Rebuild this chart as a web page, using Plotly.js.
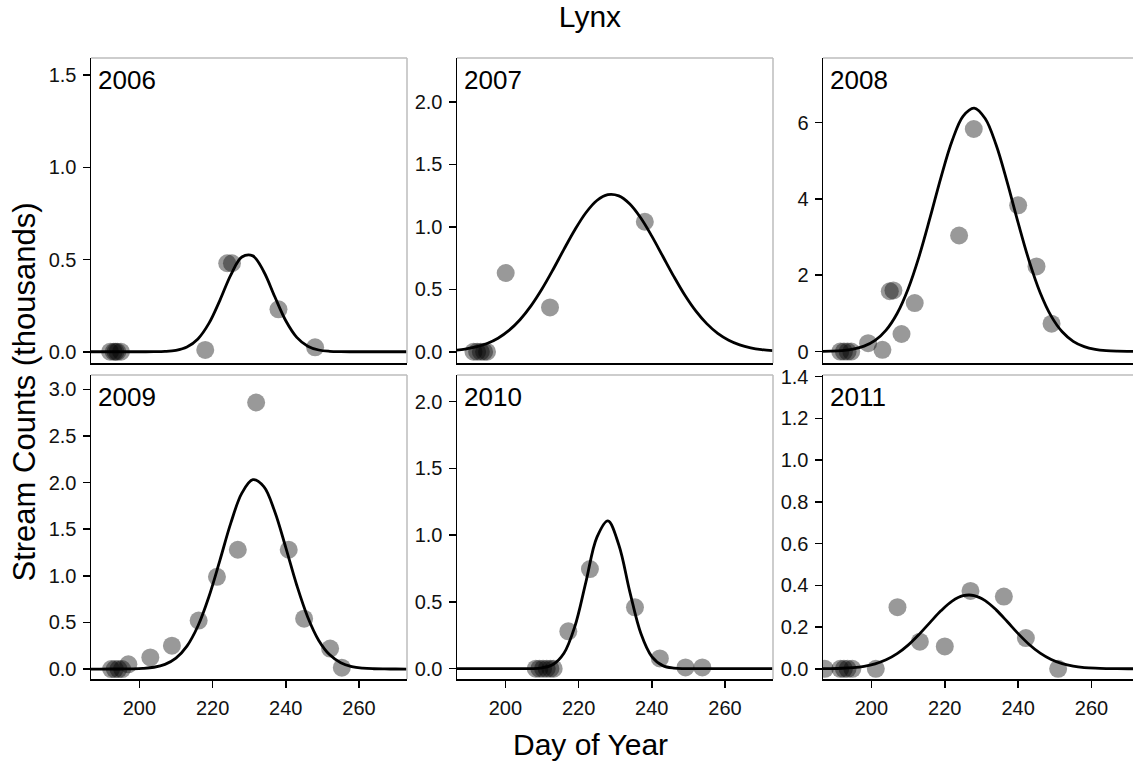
<!DOCTYPE html>
<html>
<head>
<meta charset="utf-8">
<script src="https://cdn.plot.ly/plotly-3.0.1.min.js"></script>
<style>html,body{margin:0;padding:0;background:#fff;}#chart{width:1133px;height:765px;}</style>
</head>
<body>
<div id="chart"></div>
<script>
// ---------- data ----------
const years = ["2006", "2007", "2008", "2009", "2010", "2011"];

// observed stream counts (thousands) by day of year
const days2006 = [192, 193, 193.5, 194, 195, 218, 224, 225.3, 238, 248];
const counts2006 = [0, 0, 0, 0, 0, 0.01, 0.48, 0.48, 0.23, 0.024];

const days2007 = [191.3, 192.3, 193.3, 194.2, 195, 200.1, 212.2, 238.1];
const counts2007 = [0, 0, 0, 0, 0, 0.63, 0.355, 1.04];

const days2008 = [191.5, 192.5, 193.5, 194.5, 199.1, 203, 205, 206, 208.2, 211.8, 223.9, 227.9, 240, 245, 249.1];
const counts2008 = [0, 0, 0, 0, 0.22, 0.045, 1.58, 1.6, 0.46, 1.27, 3.04, 5.83, 3.83, 2.23, 0.73];

const days2009 = [192.3, 193.3, 194.3, 195.3, 197, 203, 208.9, 216.2, 221.2, 226.9, 231.9, 240.8, 245, 252.1, 255.3];
const counts2009 = [0, 0, 0, 0, 0.05, 0.125, 0.25, 0.52, 0.99, 1.28, 2.86, 1.28, 0.54, 0.22, 0.015];

const days2010 = [208.3, 209.3, 210.3, 211.3, 212.3, 213.2, 217.2, 223.1, 235.4, 242.2, 249.2, 253.8];
const counts2010 = [0, 0, 0, 0, 0, 0, 0.28, 0.746, 0.46, 0.077, 0.01, 0.01];

const days2011 = [187.3, 191.5, 192.5, 193.5, 194.8, 201.2, 207.1, 213.2, 220, 227, 236.1, 242.1, 250.9];
const counts2011 = [0, 0, 0, 0, 0, 0, 0.295, 0.13, 0.107, 0.373, 0.346, 0.147, 0];

// fitted curves at these days
const curveDays = [186, 189, 192, 195, 198, 201, 204, 207, 210, 213, 216, 219, 222, 225, 228,
                   231, 234, 237, 240, 243, 246, 249, 252, 255, 258, 261, 264, 267, 270, 273];
const fit2006 = [0, 0, 0, 0, 0, 0.0001, 0.0004, 0.002, 0.008, 0.026, 0.0696, 0.1537, 0.279, 0.417, 0.514,
                 0.520, 0.434, 0.298, 0.168, 0.078, 0.030, 0.0095, 0.0024, 0.0005, 0.0001, 0, 0, 0, 0, 0];
const fit2007 = [0.0113, 0.0213, 0.0383, 0.066, 0.1085, 0.1705, 0.256, 0.367, 0.502, 0.656, 0.819, 0.976, 1.112, 1.210, 1.257,
                 1.247, 1.182, 1.070, 0.925, 0.764, 0.603, 0.454, 0.327, 0.225, 0.147, 0.0925, 0.0553, 0.0316, 0.0173, 0.009];
const fit2008 = [0.0036, 0.0101, 0.0262, 0.0634, 0.1417, 0.2937, 0.563, 0.998, 1.641, 2.495, 3.512, 4.578, 5.523, 6.169, 6.379,
                 6.106, 5.410, 4.438, 3.371, 2.370, 1.542, 0.929, 0.518, 0.268, 0.128, 0.0566, 0.0232, 0.0088, 0.0031, 0.001];
const fit2009 = [0, 0, 0.0001, 0.0005, 0.002, 0.0065, 0.0191, 0.050, 0.117, 0.246, 0.462, 0.776, 1.166, 1.568, 1.887,
                 2.032, 1.958, 1.688, 1.303, 0.899, 0.556, 0.307, 0.152, 0.0673, 0.0266, 0.0095, 0.003, 0.0009, 0.0002, 0];
const fit2010 = [0, 0, 0, 0, 0, 0, 0.0001, 0.0009, 0.0063, 0.0312, 0.1155, 0.3177, 0.649, 0.984, 1.108,
                 0.927, 0.576, 0.266, 0.091, 0.0232, 0.0044, 0.0006, 0, 0, 0, 0, 0, 0, 0, 0];
const fit2011 = [0.0004, 0.001, 0.0025, 0.0057, 0.012, 0.0236, 0.0429, 0.0724, 0.1133, 0.1649, 0.2225, 0.2788, 0.3244, 0.3503, 0.3511,
                 0.3268, 0.2823, 0.2264, 0.1685, 0.1165, 0.0748, 0.0445, 0.0246, 0.0126, 0.006, 0.0027, 0.0011, 0.0004, 0.0001, 0];

// axis ticks
const xTicks = [200, 220, 240, 260];
const yTicks2006 = [0, 0.5, 1.0, 1.5];
const yTicks2007 = [0, 0.5, 1.0, 1.5, 2.0];
const yTicks2008 = [0, 2, 4, 6];
const yTicks2009 = [0, 0.5, 1.0, 1.5, 2.0, 2.5, 3.0];
const yTicks2010 = [0, 0.5, 1.0, 1.5, 2.0];
const yTicks2011 = [0, 0.2, 0.4, 0.6, 0.8, 1.0, 1.2, 1.4];

const title = "Lynx";
const xTitle = "Day of Year";
const yTitle = "Stream Counts (thousands)";

// ---------- build ----------
const W = 1133, H = 765;
const pointDays = [days2006, days2007, days2008, days2009, days2010, days2011];
const pointCounts = [counts2006, counts2007, counts2008, counts2009, counts2010, counts2011];
const fits = [fit2006, fit2007, fit2008, fit2009, fit2010, fit2011];
const yTickSets = [yTicks2006, yTicks2007, yTicks2008, yTicks2009, yTicks2010, yTicks2011];
const yFormats = [".1f", ".1f", "d", ".1f", ".1f", ".1f"];
const yRanges = [[-0.061, 1.593], [-0.09, 2.35], [-0.30, 7.69], [-0.107, 3.155], [-0.077, 2.2], [-0.049, 1.408]];

// panel geometry in pixels
const colLeft = [91, 457, 823];
const colRight = [407, 773, 1133];
const rowTop = [58, 375];
const rowBottom = [363, 679];
const xRanges = [[186.8, 273.1], [186.8, 273.1], [186.8, 271.3]];

const traces = [];
const layout = {
  width: W, height: H,
  margin: {l: 0, r: 0, t: 0, b: 0},
  paper_bgcolor: "#fff", plot_bgcolor: "#fff",
  showlegend: false,
  font: {family: "Liberation Sans, Arial, sans-serif", color: "#000"},
  title: {text: title, font: {size: 30, color: "#000"}, x: 590 / W, xanchor: "center",
          xref: "paper", y: 1, yref: "paper", yanchor: "top", pad: {t: 6, b: 0, l: 0, r: 0}},
  shapes: [],
  annotations: []
};

for (let i = 0; i < 6; i++) {
  const row = Math.floor(i / 3), col = i % 3;
  const sfx = i === 0 ? "" : String(i + 1);
  const xa = "x" + sfx, ya = "y" + sfx;

  traces.push({
    type: "scatter", mode: "markers", x: pointDays[i], y: pointCounts[i],
    xaxis: xa, yaxis: ya, cliponaxis: true,
    marker: {size: 18, color: "rgba(0,0,0,0.4)", line: {width: 0}},
    hoverinfo: "x+y"
  });
  traces.push({
    type: "scatter", mode: "lines", x: curveDays, y: fits[i],
    xaxis: xa, yaxis: ya,
    line: {color: "#000", width: 2.8, shape: "spline", smoothing: 1},
    hoverinfo: "skip"
  });

  layout["xaxis" + sfx] = {
    domain: [colLeft[col] / W, colRight[col] / W],
    anchor: ya, range: xRanges[col],
    showgrid: false, zeroline: false,
    showline: true, linecolor: "#000", linewidth: 1.5,
    ticks: row === 1 ? "outside" : "", ticklen: 7, tickwidth: 1.5, tickcolor: "#000",
    tickvals: xTicks, showticklabels: row === 1,
    tickfont: {size: 20, color: "#111"}, ticklabelstandoff: 3
  };
  layout["yaxis" + sfx] = {
    domain: [(H - rowBottom[row]) / H, (H - rowTop[row]) / H],
    anchor: xa, range: yRanges[i],
    showgrid: false, zeroline: false,
    showline: true, linecolor: "#000", linewidth: 1.5,
    ticks: "outside", ticklen: 7, tickwidth: 1.5, tickcolor: "#000",
    tickvals: yTickSets[i], tickformat: yFormats[i],
    tickfont: {size: 20, color: "#111"}, ticklabelstandoff: 2
  };

  // light grey panel border (top and right)
  layout.shapes.push({type: "line", xref: xa + " domain", yref: ya + " domain",
    x0: 0, x1: 1, y0: 1, y1: 1, line: {color: "#bdbdbd", width: 1.5}, layer: "above"});
  if (col < 2) {
    layout.shapes.push({type: "line", xref: xa + " domain", yref: ya + " domain",
      x0: 1, x1: 1, y0: 0, y1: 1, line: {color: "#bdbdbd", width: 1.5}, layer: "above"});
  }

  // panel label
  layout.annotations.push({
    xref: xa + " domain", yref: ya + " domain", x: 0, y: 1,
    xanchor: "left", yanchor: "top", xshift: 5, yshift: -5,
    text: years[i], showarrow: false, font: {size: 26, color: "#000"}
  });
}

layout.annotations.push({
  xref: "paper", yref: "paper", x: 590 / W, y: 1 - 744 / H,
  xanchor: "center", yanchor: "middle", text: xTitle, showarrow: false,
  font: {size: 30, color: "#000"}
});
layout.annotations.push({
  xref: "paper", yref: "paper", x: 24.5 / W, y: 1 - 392 / H,
  xanchor: "center", yanchor: "middle", text: yTitle, textangle: -90, showarrow: false,
  font: {size: 31, color: "#000"}
});

Plotly.newPlot("chart", traces, layout, {displayModeBar: false, staticPlot: true});
</script>
</body>
</html>
